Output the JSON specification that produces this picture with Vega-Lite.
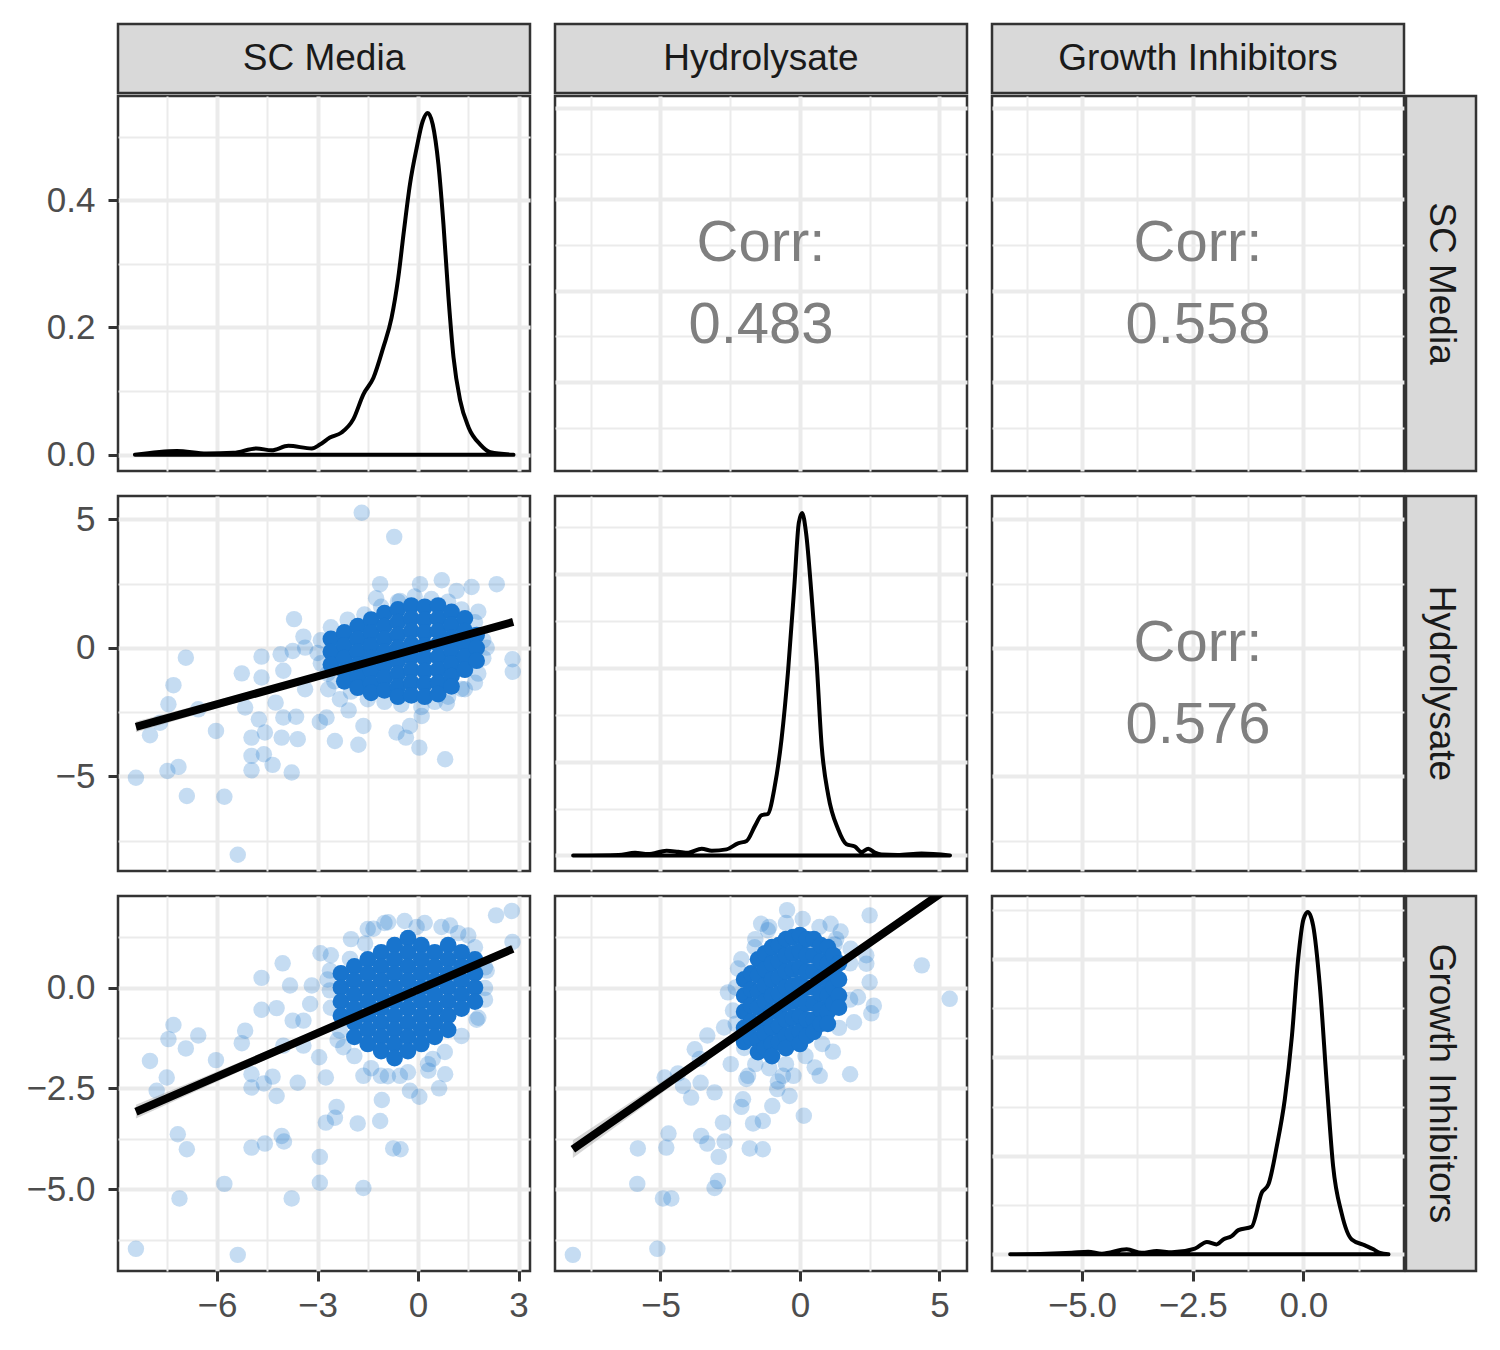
{
  "$schema": "https://vega.github.io/schema/vega-lite/v6.json",
  "background": "white",
  "padding": {"left": 24, "top": 22, "right": 5, "bottom": 5},
  "config": {
    "font": "Liberation Sans",
    "view": {"stroke": "#333333", "strokeWidth": 2.5},
    "axis": {
      "domain": false,
      "gridColor": "#ebebeb",
      "tickColor": "#333333",
      "tickWidth": 3,
      "tickSize": 10,
      "labelFont": "Liberation Sans",
      "labelFontSize": 35,
      "labelColor": "#4d4d4d",
      "labelFlush": false,
      "labelOverlap": false,
      "labelBound": false
    }
  },
  "datasets": {
    "dens_sc": [
      {"sc": -8.45, "density": 0}, {"sc": -7.2, "density": 0.006}, {"sc": -6.31, "density": 0.002}, {"sc": -5.51, "density": 0.003},
      {"sc": -4.82, "density": 0.01}, {"sc": -4.37, "density": 0.007}, {"sc": -3.87, "density": 0.014}, {"sc": -3.17, "density": 0.01},
      {"sc": -2.93, "density": 0.016}, {"sc": -2.63, "density": 0.027}, {"sc": -2.28, "density": 0.035}, {"sc": -1.93, "density": 0.056},
      {"sc": -1.63, "density": 0.095}, {"sc": -1.33, "density": 0.121}, {"sc": -1.04, "density": 0.168}, {"sc": -0.79, "density": 0.215},
      {"sc": -0.59, "density": 0.278}, {"sc": -0.42, "density": 0.352}, {"sc": -0.24, "density": 0.425}, {"sc": -0.04, "density": 0.482},
      {"sc": 0.14, "density": 0.524}, {"sc": 0.29, "density": 0.537}, {"sc": 0.44, "density": 0.519}, {"sc": 0.61, "density": 0.456},
      {"sc": 0.76, "density": 0.362}, {"sc": 0.91, "density": 0.247}, {"sc": 1.06, "density": 0.153}, {"sc": 1.26, "density": 0.085},
      {"sc": 1.51, "density": 0.043}, {"sc": 1.86, "density": 0.016}, {"sc": 2.16, "density": 0.004}, {"sc": 2.85, "density": 0}
    ],
    "dens_hyd": [
      {"hyd": -8.13, "density": 0}, {"hyd": -6.5, "density": 0.001}, {"hyd": -5.91, "density": 0.006}, {"hyd": -5.44, "density": 0.003},
      {"hyd": -4.78, "density": 0.01}, {"hyd": -4.36, "density": 0.008}, {"hyd": -4.0, "density": 0.006}, {"hyd": -3.52, "density": 0.0145},
      {"hyd": -3.16, "density": 0.01}, {"hyd": -2.63, "density": 0.013}, {"hyd": -2.22, "density": 0.026}, {"hyd": -1.91, "density": 0.031},
      {"hyd": -1.61, "density": 0.063}, {"hyd": -1.37, "density": 0.086}, {"hyd": -1.16, "density": 0.088}, {"hyd": -0.9, "density": 0.148},
      {"hyd": -0.66, "density": 0.247}, {"hyd": -0.42, "density": 0.396}, {"hyd": -0.2, "density": 0.573}, {"hyd": -0.04, "density": 0.708},
      {"hyd": 0.08, "density": 0.729}, {"hyd": 0.22, "density": 0.687}, {"hyd": 0.42, "density": 0.552}, {"hyd": 0.6, "density": 0.41},
      {"hyd": 0.78, "density": 0.233}, {"hyd": 1.02, "density": 0.127}, {"hyd": 1.37, "density": 0.056}, {"hyd": 1.67, "density": 0.024},
      {"hyd": 1.97, "density": 0.019}, {"hyd": 2.21, "density": 0.0075}, {"hyd": 2.45, "density": 0.0145}, {"hyd": 2.69, "density": 0.006},
      {"hyd": 2.93, "density": 0.002}, {"hyd": 3.5, "density": 0.001}, {"hyd": 4.36, "density": 0.004}, {"hyd": 5.38, "density": 0}
    ],
    "dens_gi": [
      {"gi": -6.62, "density": 0}, {"gi": -5.8, "density": 0.001}, {"gi": -5.23, "density": 0.003}, {"gi": -4.86, "density": 0.005},
      {"gi": -4.55, "density": 0.001}, {"gi": -3.99, "density": 0.01}, {"gi": -3.65, "density": 0.003}, {"gi": -3.31, "density": 0.0067},
      {"gi": -2.97, "density": 0.004}, {"gi": -2.45, "density": 0.0115}, {"gi": -2.18, "density": 0.025}, {"gi": -1.96, "density": 0.02},
      {"gi": -1.81, "density": 0.03}, {"gi": -1.62, "density": 0.037}, {"gi": -1.47, "density": 0.049}, {"gi": -1.17, "density": 0.056},
      {"gi": -0.94, "density": 0.125}, {"gi": -0.79, "density": 0.142}, {"gi": -0.6, "density": 0.22}, {"gi": -0.42, "density": 0.315},
      {"gi": -0.26, "density": 0.443}, {"gi": -0.12, "density": 0.599}, {"gi": 0.0, "density": 0.68}, {"gi": 0.1, "density": 0.695},
      {"gi": 0.22, "density": 0.667}, {"gi": 0.37, "density": 0.545}, {"gi": 0.53, "density": 0.342}, {"gi": 0.67, "density": 0.179},
      {"gi": 0.86, "density": 0.084}, {"gi": 1.09, "density": 0.03}, {"gi": 1.39, "density": 0.018}, {"gi": 1.58, "density": 0.01},
      {"gi": 1.73, "density": 0.0025}, {"gi": 1.92, "density": 0}
    ],
    "pts_sc_hyd": [
      {"sc": -1.68, "hyd": 5.26}, {"sc": -0.71, "hyd": 4.32}, {"sc": -6.93, "hyd": -0.38}, {"sc": -7.3, "hyd": -1.45},
      {"sc": -7.45, "hyd": -2.19}, {"sc": -6.56, "hyd": -2.39}, {"sc": -8.0, "hyd": -3.4}, {"sc": -7.7, "hyd": -2.91},
      {"sc": -8.42, "hyd": -5.05}, {"sc": -7.48, "hyd": -4.79}, {"sc": -7.15, "hyd": -4.63}, {"sc": -6.9, "hyd": -5.76},
      {"sc": -5.78, "hyd": -5.79}, {"sc": -5.38, "hyd": -8.05}, {"sc": -6.03, "hyd": -3.23}, {"sc": -5.26, "hyd": -0.99},
      {"sc": -4.67, "hyd": -1.15}, {"sc": -4.67, "hyd": -0.34}, {"sc": -5.16, "hyd": -2.32}, {"sc": -4.75, "hyd": -2.78},
      {"sc": -4.97, "hyd": -3.49}, {"sc": -4.57, "hyd": -3.29}, {"sc": -4.97, "hyd": -4.2}, {"sc": -4.97, "hyd": -4.76},
      {"sc": -4.6, "hyd": -4.14}, {"sc": -4.34, "hyd": -4.55}, {"sc": -3.77, "hyd": -4.85}, {"sc": -4.25, "hyd": -2.13},
      {"sc": -4.02, "hyd": -2.71}, {"sc": -4.07, "hyd": -3.49}, {"sc": -3.64, "hyd": -2.68}, {"sc": -3.59, "hyd": -3.55},
      {"sc": -4.1, "hyd": -0.25}, {"sc": -4.02, "hyd": -0.89}, {"sc": -3.74, "hyd": -0.12}, {"sc": -3.7, "hyd": 1.12},
      {"sc": -3.42, "hyd": 0.44}, {"sc": -3.37, "hyd": 0.01}, {"sc": -3.37, "hyd": -1.61}, {"sc": -2.93, "hyd": -2.88},
      {"sc": -2.73, "hyd": -2.71}, {"sc": -2.48, "hyd": -3.62}, {"sc": -1.78, "hyd": -3.77}, {"sc": -1.63, "hyd": -3.04},
      {"sc": -2.07, "hyd": -2.43}, {"sc": -2.33, "hyd": -2.0}, {"sc": -2.68, "hyd": -1.61}, {"sc": -0.64, "hyd": -3.29},
      {"sc": -0.36, "hyd": -3.49}, {"sc": -0.24, "hyd": -3.04}, {"sc": 0.04, "hyd": -3.88}, {"sc": 0.81, "hyd": -4.33},
      {"sc": 0.11, "hyd": -2.65}, {"sc": 0.86, "hyd": -2.15}, {"sc": -1.13, "hyd": 2.48}, {"sc": -1.25, "hyd": 1.93},
      {"sc": 0.06, "hyd": 2.48}, {"sc": 0.71, "hyd": 2.63}, {"sc": 1.6, "hyd": 2.37}, {"sc": 2.35, "hyd": 2.48},
      {"sc": 1.8, "hyd": 1.41}, {"sc": 2.82, "hyd": -0.44}, {"sc": 2.83, "hyd": -0.93}, {"sc": 1.7, "hyd": -1.35},
      {"sc": 1.4, "hyd": -1.61}, {"sc": 2.05, "hyd": 0.01}, {"sc": 1.15, "hyd": 2.22}, {"sc": -0.54, "hyd": 1.83},
      {"sc": -2.9, "hyd": 0.3}, {"sc": -2.9, "hyd": -0.6}, {"sc": -2.6, "hyd": 0.8}, {"sc": -2.5, "hyd": -1.3},
      {"sc": -2.1, "hyd": 1.1}, {"sc": -2.0, "hyd": -1.7}, {"sc": -1.6, "hyd": 1.3}, {"sc": -1.5, "hyd": -2.0},
      {"sc": -1.1, "hyd": 1.6}, {"sc": -1.0, "hyd": -2.1}, {"sc": -0.6, "hyd": 1.8}, {"sc": -0.5, "hyd": -2.2},
      {"sc": -0.1, "hyd": 2.0}, {"sc": 0.1, "hyd": -2.3}, {"sc": 0.4, "hyd": 1.9}, {"sc": 0.5, "hyd": -2.1},
      {"sc": 0.9, "hyd": 1.8}, {"sc": 0.9, "hyd": -1.9}, {"sc": 1.3, "hyd": 1.5}, {"sc": 1.3, "hyd": -1.6},
      {"sc": 1.7, "hyd": 1.0}, {"sc": 1.8, "hyd": -1.0}, {"sc": 1.95, "hyd": 0.3}, {"sc": 1.95, "hyd": -0.4},
      {"sc": -3.0, "hyd": -0.2}, {"sc": -2.7, "hyd": -1.0}
    ],
    "core_sc_hyd": [
      {"sc": -2.6, "hyd": 0.35}, {"sc": -2.6, "hyd": -0.15}, {"sc": -2.6, "hyd": -0.65},
      {"sc": -2.2, "hyd": 0.6}, {"sc": -2.2, "hyd": 0.1}, {"sc": -2.2, "hyd": -0.4}, {"sc": -2.2, "hyd": -0.9}, {"sc": -2.2, "hyd": -1.3},
      {"sc": -1.8, "hyd": 0.85}, {"sc": -1.8, "hyd": 0.35}, {"sc": -1.8, "hyd": -0.15}, {"sc": -1.8, "hyd": -0.65}, {"sc": -1.8, "hyd": -1.15}, {"sc": -1.8, "hyd": -1.55},
      {"sc": -1.4, "hyd": 1.1}, {"sc": -1.4, "hyd": 0.6}, {"sc": -1.4, "hyd": 0.1}, {"sc": -1.4, "hyd": -0.4}, {"sc": -1.4, "hyd": -0.9}, {"sc": -1.4, "hyd": -1.4}, {"sc": -1.4, "hyd": -1.75},
      {"sc": -1.0, "hyd": 1.35}, {"sc": -1.0, "hyd": 0.85}, {"sc": -1.0, "hyd": 0.35}, {"sc": -1.0, "hyd": -0.15}, {"sc": -1.0, "hyd": -0.65}, {"sc": -1.0, "hyd": -1.15}, {"sc": -1.0, "hyd": -1.65},
      {"sc": -0.6, "hyd": 1.5}, {"sc": -0.6, "hyd": 1.0}, {"sc": -0.6, "hyd": 0.5}, {"sc": -0.6, "hyd": 0.0}, {"sc": -0.6, "hyd": -0.5}, {"sc": -0.6, "hyd": -1.0}, {"sc": -0.6, "hyd": -1.5}, {"sc": -0.6, "hyd": -1.9},
      {"sc": -0.2, "hyd": 1.65}, {"sc": -0.2, "hyd": 1.15}, {"sc": -0.2, "hyd": 0.65}, {"sc": -0.2, "hyd": 0.15}, {"sc": -0.2, "hyd": -0.35}, {"sc": -0.2, "hyd": -0.85}, {"sc": -0.2, "hyd": -1.35}, {"sc": -0.2, "hyd": -1.85},
      {"sc": 0.2, "hyd": 1.6}, {"sc": 0.2, "hyd": 1.1}, {"sc": 0.2, "hyd": 0.6}, {"sc": 0.2, "hyd": 0.1}, {"sc": 0.2, "hyd": -0.4}, {"sc": 0.2, "hyd": -0.9}, {"sc": 0.2, "hyd": -1.4}, {"sc": 0.2, "hyd": -1.9},
      {"sc": 0.6, "hyd": 1.65}, {"sc": 0.6, "hyd": 1.15}, {"sc": 0.6, "hyd": 0.65}, {"sc": 0.6, "hyd": 0.15}, {"sc": 0.6, "hyd": -0.35}, {"sc": 0.6, "hyd": -0.85}, {"sc": 0.6, "hyd": -1.35}, {"sc": 0.6, "hyd": -1.8},
      {"sc": 1.0, "hyd": 1.4}, {"sc": 1.0, "hyd": 0.9}, {"sc": 1.0, "hyd": 0.4}, {"sc": 1.0, "hyd": -0.1}, {"sc": 1.0, "hyd": -0.6}, {"sc": 1.0, "hyd": -1.1}, {"sc": 1.0, "hyd": -1.5},
      {"sc": 1.4, "hyd": 1.15}, {"sc": 1.4, "hyd": 0.65}, {"sc": 1.4, "hyd": 0.15}, {"sc": 1.4, "hyd": -0.35}, {"sc": 1.4, "hyd": -0.85},
      {"sc": 1.75, "hyd": 0.5}, {"sc": 1.75, "hyd": 0.0}, {"sc": 1.75, "hyd": -0.5}
    ],
    "fit_sc_hyd": [
      {"sc": -8.42, "hyd": -3.07, "lo": -3.28, "hi": -2.86},
      {"sc": -0.3, "hyd": -0.13, "lo": -0.17, "hi": -0.09},
      {"sc": 2.84, "hyd": 1.01, "lo": 0.89, "hi": 1.13}
    ],
    "pts_sc_gi": [
      {"sc": -8.42, "gi": -6.48}, {"sc": -5.38, "gi": -6.63}, {"sc": -7.12, "gi": -5.23}, {"sc": -5.78, "gi": -4.87},
      {"sc": -3.77, "gi": -5.23}, {"sc": -2.93, "gi": -4.84}, {"sc": -1.63, "gi": -4.97}, {"sc": -2.93, "gi": -4.2},
      {"sc": -4.97, "gi": -3.97}, {"sc": -4.57, "gi": -3.87}, {"sc": -4.07, "gi": -3.68}, {"sc": -4.0, "gi": -3.82},
      {"sc": -7.17, "gi": -3.64}, {"sc": -6.9, "gi": -4.01}, {"sc": -0.74, "gi": -3.99}, {"sc": -0.52, "gi": -4.01},
      {"sc": -2.75, "gi": -3.35}, {"sc": -2.43, "gi": -2.96}, {"sc": -2.48, "gi": -3.23}, {"sc": -1.8, "gi": -3.37},
      {"sc": -1.13, "gi": -3.31}, {"sc": -1.08, "gi": -2.79}, {"sc": -8.0, "gi": -1.82}, {"sc": -7.8, "gi": -2.56},
      {"sc": -7.5, "gi": -2.23}, {"sc": -7.45, "gi": -1.28}, {"sc": -7.3, "gi": -0.93}, {"sc": -6.93, "gi": -1.51},
      {"sc": -6.56, "gi": -1.19}, {"sc": -6.03, "gi": -1.8}, {"sc": -5.16, "gi": -1.07}, {"sc": -5.26, "gi": -1.38},
      {"sc": -4.67, "gi": 0.24}, {"sc": -4.67, "gi": -0.55}, {"sc": -4.04, "gi": 0.6}, {"sc": -3.82, "gi": 0.05},
      {"sc": -4.22, "gi": -0.51}, {"sc": -3.74, "gi": -0.82}, {"sc": -3.22, "gi": -0.41}, {"sc": -3.42, "gi": -0.82},
      {"sc": -4.97, "gi": -2.15}, {"sc": -4.97, "gi": -2.48}, {"sc": -4.6, "gi": -2.38}, {"sc": -4.34, "gi": -2.21},
      {"sc": -4.22, "gi": -2.69}, {"sc": -3.59, "gi": -2.36}, {"sc": -4.02, "gi": -1.44}, {"sc": -3.42, "gi": -1.44},
      {"sc": -2.91, "gi": 0.85}, {"sc": -3.17, "gi": 0.05}, {"sc": -2.95, "gi": -1.73}, {"sc": -2.75, "gi": -2.23},
      {"sc": -1.63, "gi": -2.19}, {"sc": -1.11, "gi": -2.19}, {"sc": -0.54, "gi": -2.19}, {"sc": -0.24, "gi": -2.56},
      {"sc": 0.04, "gi": -2.71}, {"sc": 0.63, "gi": -2.5}, {"sc": 0.81, "gi": -2.15}, {"sc": 0.31, "gi": -2.06},
      {"sc": 0.44, "gi": -1.77}, {"sc": 2.33, "gi": 1.79}, {"sc": 2.8, "gi": 1.9}, {"sc": 2.82, "gi": 1.13},
      {"sc": 1.8, "gi": -0.75}, {"sc": 2.0, "gi": -0.01}, {"sc": 2.05, "gi": 0.42}, {"sc": 1.5, "gi": 1.29},
      {"sc": 0.96, "gi": 1.54}, {"sc": -0.04, "gi": 1.5}, {"sc": -0.89, "gi": 1.62}, {"sc": -1.33, "gi": 1.46},
      {"sc": -1.58, "gi": 1.09}, {"sc": -2.03, "gi": 0.71}, {"sc": -2.63, "gi": 0.42}, {"sc": -2.63, "gi": -0.07},
      {"sc": -2.33, "gi": -1.07}, {"sc": -2.23, "gi": -1.48},
      {"sc": -2.6, "gi": 0.8}, {"sc": -2.7, "gi": 0.2}, {"sc": -2.6, "gi": -0.5}, {"sc": -2.4, "gi": -1.3},
      {"sc": -2.0, "gi": 1.2}, {"sc": -1.9, "gi": -1.7}, {"sc": -1.5, "gi": 1.45}, {"sc": -1.4, "gi": -2.0},
      {"sc": -1.0, "gi": 1.6}, {"sc": -0.9, "gi": -2.2}, {"sc": -0.4, "gi": 1.65}, {"sc": -0.3, "gi": -2.1},
      {"sc": 0.2, "gi": 1.6}, {"sc": 0.3, "gi": -1.9}, {"sc": 0.7, "gi": 1.5}, {"sc": 0.8, "gi": -1.6},
      {"sc": 1.2, "gi": 1.35}, {"sc": 1.3, "gi": -1.2}, {"sc": 1.7, "gi": 1.0}, {"sc": 1.75, "gi": -0.8},
      {"sc": 2.0, "gi": 0.5}, {"sc": 2.0, "gi": -0.3}
    ],
    "core_sc_gi": [
      {"sc": -2.3, "gi": 0.35}, {"sc": -2.3, "gi": 0.0}, {"sc": -2.3, "gi": -0.35}, {"sc": -2.3, "gi": -0.7},
      {"sc": -1.9, "gi": 0.525}, {"sc": -1.9, "gi": 0.175}, {"sc": -1.9, "gi": -0.175}, {"sc": -1.9, "gi": -0.525}, {"sc": -1.9, "gi": -0.875}, {"sc": -1.9, "gi": -1.225},
      {"sc": -1.5, "gi": 0.7}, {"sc": -1.5, "gi": 0.35}, {"sc": -1.5, "gi": 0.0}, {"sc": -1.5, "gi": -0.35}, {"sc": -1.5, "gi": -0.7}, {"sc": -1.5, "gi": -1.05}, {"sc": -1.5, "gi": -1.4},
      {"sc": -1.1, "gi": 0.875}, {"sc": -1.1, "gi": 0.525}, {"sc": -1.1, "gi": 0.175}, {"sc": -1.1, "gi": -0.175}, {"sc": -1.1, "gi": -0.525}, {"sc": -1.1, "gi": -0.875}, {"sc": -1.1, "gi": -1.225}, {"sc": -1.1, "gi": -1.575},
      {"sc": -0.7, "gi": 1.05}, {"sc": -0.7, "gi": 0.7}, {"sc": -0.7, "gi": 0.35}, {"sc": -0.7, "gi": 0.0}, {"sc": -0.7, "gi": -0.35}, {"sc": -0.7, "gi": -0.7}, {"sc": -0.7, "gi": -1.05}, {"sc": -0.7, "gi": -1.4}, {"sc": -0.7, "gi": -1.75},
      {"sc": -0.3, "gi": 1.225}, {"sc": -0.3, "gi": 0.875}, {"sc": -0.3, "gi": 0.525}, {"sc": -0.3, "gi": 0.175}, {"sc": -0.3, "gi": -0.175}, {"sc": -0.3, "gi": -0.525}, {"sc": -0.3, "gi": -0.875}, {"sc": -0.3, "gi": -1.225}, {"sc": -0.3, "gi": -1.575},
      {"sc": 0.1, "gi": 1.05}, {"sc": 0.1, "gi": 0.7}, {"sc": 0.1, "gi": 0.35}, {"sc": 0.1, "gi": 0.0}, {"sc": 0.1, "gi": -0.35}, {"sc": 0.1, "gi": -0.7}, {"sc": 0.1, "gi": -1.05}, {"sc": 0.1, "gi": -1.4},
      {"sc": 0.5, "gi": 0.875}, {"sc": 0.5, "gi": 0.525}, {"sc": 0.5, "gi": 0.175}, {"sc": 0.5, "gi": -0.175}, {"sc": 0.5, "gi": -0.525}, {"sc": 0.5, "gi": -0.875}, {"sc": 0.5, "gi": -1.225},
      {"sc": 0.9, "gi": 1.05}, {"sc": 0.9, "gi": 0.7}, {"sc": 0.9, "gi": 0.35}, {"sc": 0.9, "gi": 0.0}, {"sc": 0.9, "gi": -0.35}, {"sc": 0.9, "gi": -0.7}, {"sc": 0.9, "gi": -1.05},
      {"sc": 1.3, "gi": 0.875}, {"sc": 1.3, "gi": 0.525}, {"sc": 1.3, "gi": 0.175}, {"sc": 1.3, "gi": -0.175}, {"sc": 1.3, "gi": -0.525},
      {"sc": 1.7, "gi": 0.7}, {"sc": 1.7, "gi": 0.35}, {"sc": 1.7, "gi": 0.0}, {"sc": 1.7, "gi": -0.35}
    ],
    "fit_sc_gi": [
      {"sc": -8.42, "gi": -3.08, "lo": -3.25, "hi": -2.91},
      {"sc": -0.3, "gi": -0.16, "lo": -0.19, "hi": -0.13},
      {"sc": 2.83, "gi": 0.96, "lo": 0.87, "hi": 1.05}
    ],
    "pts_hyd_gi": [
      {"hyd": -8.14, "gi": -6.63}, {"hyd": -5.11, "gi": -6.48}, {"hyd": -5.83, "gi": -4.87}, {"hyd": -4.91, "gi": -5.23},
      {"hyd": -4.61, "gi": -5.23}, {"hyd": -3.06, "gi": -4.97}, {"hyd": -2.94, "gi": -4.8}, {"hyd": -5.81, "gi": -3.99},
      {"hyd": -4.79, "gi": -3.97}, {"hyd": -4.71, "gi": -3.62}, {"hyd": -3.54, "gi": -3.68}, {"hyd": -3.32, "gi": -3.87},
      {"hyd": -2.7, "gi": -3.82}, {"hyd": -2.91, "gi": -4.2}, {"hyd": -2.76, "gi": -3.35}, {"hyd": -1.8, "gi": -3.99},
      {"hyd": -1.33, "gi": -4.01}, {"hyd": -1.68, "gi": -3.37}, {"hyd": -1.33, "gi": -3.31}, {"hyd": -2.1, "gi": -2.96},
      {"hyd": -2.04, "gi": -2.77}, {"hyd": -0.99, "gi": -2.94}, {"hyd": -0.37, "gi": -2.69}, {"hyd": 0.14, "gi": -3.18},
      {"hyd": -0.81, "gi": -2.52}, {"hyd": -3.06, "gi": -2.6}, {"hyd": -3.9, "gi": -2.73}, {"hyd": -4.19, "gi": -2.44},
      {"hyd": -3.56, "gi": -2.36}, {"hyd": -4.85, "gi": -2.23}, {"hyd": -4.37, "gi": -2.13}, {"hyd": -3.77, "gi": -1.53},
      {"hyd": -3.59, "gi": -1.77}, {"hyd": -3.32, "gi": -1.19}, {"hyd": -2.72, "gi": -0.99}, {"hyd": -2.48, "gi": -1.9},
      {"hyd": -1.92, "gi": -2.27}, {"hyd": -0.61, "gi": -2.19}, {"hyd": -0.23, "gi": -2.19}, {"hyd": 0.71, "gi": -2.19},
      {"hyd": 0.53, "gi": -1.98}, {"hyd": 1.18, "gi": -1.59}, {"hyd": 1.8, "gi": -2.15}, {"hyd": 1.94, "gi": -0.86},
      {"hyd": 2.5, "gi": 1.79}, {"hyd": 4.37, "gi": 0.55}, {"hyd": 5.37, "gi": -0.28}, {"hyd": 2.5, "gi": 0.13},
      {"hyd": 2.65, "gi": -0.45}, {"hyd": 2.56, "gi": -0.64}, {"hyd": 2.38, "gi": 0.8}, {"hyd": 2.38, "gi": 0.59},
      {"hyd": 2.08, "gi": -0.24}, {"hyd": -0.46, "gi": 1.92}, {"hyd": -1.39, "gi": 1.58}, {"hyd": -1.15, "gi": 1.42},
      {"hyd": 1.1, "gi": 1.58}, {"hyd": 1.46, "gi": 1.39}, {"hyd": -1.62, "gi": 1.0}, {"hyd": -2.22, "gi": 0.47},
      {"hyd": -2.58, "gi": -0.12}, {"hyd": -2.4, "gi": -0.57}, {"hyd": 1.24, "gi": 1.07}, {"hyd": 1.82, "gi": 0.96},
      {"hyd": -1.86, "gi": -2.19}, {"hyd": -0.79, "gi": -2.33},
      {"hyd": -2.3, "gi": 0.0}, {"hyd": -2.3, "gi": -0.9}, {"hyd": -2.1, "gi": 0.7}, {"hyd": -2.0, "gi": -1.5},
      {"hyd": -1.6, "gi": 1.2}, {"hyd": -1.6, "gi": -1.9}, {"hyd": -1.1, "gi": 1.5}, {"hyd": -1.1, "gi": -2.0},
      {"hyd": -0.5, "gi": 1.6}, {"hyd": -0.5, "gi": -1.9}, {"hyd": 0.1, "gi": 1.7}, {"hyd": 0.2, "gi": -1.7},
      {"hyd": 0.7, "gi": 1.5}, {"hyd": 0.8, "gi": -1.4}, {"hyd": 1.3, "gi": 1.2}, {"hyd": 1.4, "gi": -1.0},
      {"hyd": 1.8, "gi": 0.6}, {"hyd": 1.8, "gi": -0.3}
    ],
    "core_hyd_gi": [
      {"hyd": -2.0, "gi": 0.2}, {"hyd": -2.0, "gi": -0.2}, {"hyd": -2.0, "gi": -0.6}, {"hyd": -2.0, "gi": -1.0}, {"hyd": -2.0, "gi": -1.35},
      {"hyd": -1.75, "gi": 0.35}, {"hyd": -1.75, "gi": -0.05}, {"hyd": -1.75, "gi": -0.45}, {"hyd": -1.75, "gi": -0.85}, {"hyd": -1.75, "gi": -1.25},
      {"hyd": -1.5, "gi": 0.7}, {"hyd": -1.5, "gi": 0.3}, {"hyd": -1.5, "gi": -0.1}, {"hyd": -1.5, "gi": -0.5}, {"hyd": -1.5, "gi": -0.9}, {"hyd": -1.5, "gi": -1.3}, {"hyd": -1.5, "gi": -1.6},
      {"hyd": -1.25, "gi": 0.85}, {"hyd": -1.25, "gi": 0.45}, {"hyd": -1.25, "gi": 0.05}, {"hyd": -1.25, "gi": -0.35}, {"hyd": -1.25, "gi": -0.75}, {"hyd": -1.25, "gi": -1.15}, {"hyd": -1.25, "gi": -1.5},
      {"hyd": -1.0, "gi": 1.0}, {"hyd": -1.0, "gi": 0.6}, {"hyd": -1.0, "gi": 0.2}, {"hyd": -1.0, "gi": -0.2}, {"hyd": -1.0, "gi": -0.6}, {"hyd": -1.0, "gi": -1.0}, {"hyd": -1.0, "gi": -1.4}, {"hyd": -1.0, "gi": -1.7},
      {"hyd": -0.75, "gi": 1.05}, {"hyd": -0.75, "gi": 0.65}, {"hyd": -0.75, "gi": 0.25}, {"hyd": -0.75, "gi": -0.15}, {"hyd": -0.75, "gi": -0.55}, {"hyd": -0.75, "gi": -0.95}, {"hyd": -0.75, "gi": -1.35},
      {"hyd": -0.5, "gi": 1.2}, {"hyd": -0.5, "gi": 0.8}, {"hyd": -0.5, "gi": 0.4}, {"hyd": -0.5, "gi": 0.0}, {"hyd": -0.5, "gi": -0.4}, {"hyd": -0.5, "gi": -0.8}, {"hyd": -0.5, "gi": -1.2}, {"hyd": -0.5, "gi": -1.5},
      {"hyd": -0.25, "gi": 1.25}, {"hyd": -0.25, "gi": 0.85}, {"hyd": -0.25, "gi": 0.45}, {"hyd": -0.25, "gi": 0.05}, {"hyd": -0.25, "gi": -0.35}, {"hyd": -0.25, "gi": -0.75}, {"hyd": -0.25, "gi": -1.15},
      {"hyd": 0.0, "gi": 1.3}, {"hyd": 0.0, "gi": 0.9}, {"hyd": 0.0, "gi": 0.5}, {"hyd": 0.0, "gi": 0.1}, {"hyd": 0.0, "gi": -0.3}, {"hyd": 0.0, "gi": -0.7}, {"hyd": 0.0, "gi": -1.1}, {"hyd": 0.0, "gi": -1.4},
      {"hyd": 0.25, "gi": 1.2}, {"hyd": 0.25, "gi": 0.8}, {"hyd": 0.25, "gi": 0.4}, {"hyd": 0.25, "gi": 0.0}, {"hyd": 0.25, "gi": -0.4}, {"hyd": 0.25, "gi": -0.8}, {"hyd": 0.25, "gi": -1.2},
      {"hyd": 0.5, "gi": 1.2}, {"hyd": 0.5, "gi": 0.8}, {"hyd": 0.5, "gi": 0.4}, {"hyd": 0.5, "gi": 0.0}, {"hyd": 0.5, "gi": -0.4}, {"hyd": 0.5, "gi": -0.8}, {"hyd": 0.5, "gi": -1.1},
      {"hyd": 0.75, "gi": 1.05}, {"hyd": 0.75, "gi": 0.65}, {"hyd": 0.75, "gi": 0.25}, {"hyd": 0.75, "gi": -0.15}, {"hyd": 0.75, "gi": -0.55}, {"hyd": 0.75, "gi": -0.9},
      {"hyd": 1.0, "gi": 1.0}, {"hyd": 1.0, "gi": 0.6}, {"hyd": 1.0, "gi": 0.2}, {"hyd": 1.0, "gi": -0.2}, {"hyd": 1.0, "gi": -0.6}, {"hyd": 1.0, "gi": -0.9},
      {"hyd": 1.2, "gi": 0.8}, {"hyd": 1.2, "gi": 0.4}, {"hyd": 1.2, "gi": 0.0}, {"hyd": 1.2, "gi": -0.4},
      {"hyd": 1.4, "gi": 0.6}, {"hyd": 1.4, "gi": 0.2}, {"hyd": 1.4, "gi": -0.2}, {"hyd": 1.4, "gi": -0.5}
    ],
    "fit_hyd_gi": [
      {"hyd": -8.14, "gi": -4.01, "lo": -4.23, "hi": -3.79},
      {"hyd": -0.2, "gi": -0.19, "lo": -0.22, "hi": -0.16},
      {"hyd": 5.37, "gi": 2.49, "lo": 2.37, "hi": 2.61}
    ],
    "corr_sc_hyd": [{"hyd": -1.395, "sc": -2.765, "label": "Corr:\n0.483"}],
    "corr_sc_gi": [{"gi": -2.38, "sc": -2.765, "label": "Corr:\n0.558"}],
    "corr_hyd_gi": [{"gi": -2.38, "hyd": -1.385, "label": "Corr:\n0.576"}],
    "blank": [{"label": ""}]
  },
  "bounds": "flush",
  "columns": 6,
  "spacing": {"row": 3, "column": 2},
  "concat": [
    {"width": 412, "height": 69, "view": {"fill": "#d9d9d9", "stroke": "#333333", "strokeWidth": 2.5}, "data": {"values": [{"label": "SC Media"}]},
     "mark": {"type": "text", "fontSize": 37, "color": "#1a1a1a", "baseline": "middle"},
     "encoding": {"text": {"field": "label", "type": "nominal"}}},
    {"width": 21, "height": 69, "view": {"stroke": "transparent"}, "data": {"name": "blank"}, "mark": "text", "encoding": {"text": {"field": "label"}}},
    {"width": 412, "height": 69, "view": {"fill": "#d9d9d9", "stroke": "#333333", "strokeWidth": 2.5}, "data": {"values": [{"label": "Hydrolysate"}]},
     "mark": {"type": "text", "fontSize": 37, "color": "#1a1a1a", "baseline": "middle"},
     "encoding": {"text": {"field": "label", "type": "nominal"}}},
    {"width": 21, "height": 69, "view": {"stroke": "transparent"}, "data": {"name": "blank"}, "mark": "text", "encoding": {"text": {"field": "label"}}},
    {"width": 412, "height": 69, "view": {"fill": "#d9d9d9", "stroke": "#333333", "strokeWidth": 2.5}, "data": {"values": [{"label": "Growth Inhibitors"}]},
     "mark": {"type": "text", "fontSize": 37, "color": "#1a1a1a", "baseline": "middle"},
     "encoding": {"text": {"field": "label", "type": "nominal"}}},
    {"width": 70, "height": 69, "view": {"stroke": "transparent"}, "data": {"name": "blank"}, "mark": "text", "encoding": {"text": {"field": "label"}}},

    {
      "width": 412, "height": 375,
      "data": {"name": "dens_sc"},
      "mark": {"type": "area", "interpolate": "monotone", "fill": "transparent", "stroke": "black", "strokeWidth": 4, "strokeJoin": "round"},
      "encoding": {
        "x": {"field": "sc", "type": "quantitative", "title": null,
              "scale": {"domain": [-8.955, 3.343], "nice": false, "zero": false},
              "axis": {"values": [-7.5, -6, -4.5, -3, -1.5, 0, 1.5, 3], "labels": false, "ticks": false,
                       "gridWidth": {"condition": {"test": "indexof([-6,-3,0,3], datum.value) >= 0", "value": 4}, "value": 2}}},
        "y": {"field": "density", "type": "quantitative", "title": null,
              "scale": {"domain": [-0.0255, 0.5637], "nice": false, "zero": false},
              "axis": {"values": [0, 0.1, 0.2, 0.3, 0.4, 0.5], "format": ".1f", "labelPadding": 13,
                       "labelExpr": "indexof([0,0.2,0.4], datum.value) >= 0 ? datum.label : ''",
                       "tickOpacity": {"condition": {"test": "indexof([0,0.2,0.4], datum.value) >= 0", "value": 1}, "value": 0},
                       "gridWidth": {"condition": {"test": "indexof([0,0.2,0.4], datum.value) >= 0", "value": 4}, "value": 2}}},
        "y2": {"datum": 0}
      }
    },
    {"width": 21, "height": 375, "view": {"stroke": "transparent"}, "data": {"name": "blank"}, "mark": "text", "encoding": {"text": {"field": "label"}}},
    {
      "width": 412, "height": 375,
      "data": {"name": "corr_sc_hyd"},
      "mark": {"type": "text", "fontSize": 58, "color": "#7f7f7f", "lineBreak": "\n", "lineHeight": 82, "baseline": "middle", "align": "center", "dy": -40},
      "encoding": {
        "x": {"field": "hyd", "type": "quantitative", "title": null,
              "scale": {"domain": [-8.78, 5.99], "nice": false, "zero": false},
              "axis": {"values": [-7.5, -5, -2.5, 0, 2.5, 5], "labels": false, "ticks": false,
                       "gridWidth": {"condition": {"test": "indexof([-5,0,5], datum.value) >= 0", "value": 4}, "value": 2}}},
        "y": {"field": "sc", "type": "quantitative", "title": null,
              "scale": {"domain": [-8.93, 3.4], "nice": false, "zero": false},
              "axis": {"values": [-7.5, -6, -4.5, -3, -1.5, 0, 1.5, 3], "labels": false, "ticks": false,
                       "gridWidth": {"condition": {"test": "indexof([-6,-3,0,3], datum.value) >= 0", "value": 4}, "value": 2}}},
        "text": {"field": "label", "type": "nominal"}
      }
    },
    {"width": 21, "height": 375, "view": {"stroke": "transparent"}, "data": {"name": "blank"}, "mark": "text", "encoding": {"text": {"field": "label"}}},
    {
      "width": 412, "height": 375,
      "data": {"name": "corr_sc_gi"},
      "mark": {"type": "text", "fontSize": 58, "color": "#7f7f7f", "lineBreak": "\n", "lineHeight": 82, "baseline": "middle", "align": "center", "dy": -40},
      "encoding": {
        "x": {"field": "gi", "type": "quantitative", "title": null,
              "scale": {"domain": [-7.03, 2.27], "nice": false, "zero": false},
              "axis": {"values": [-6.25, -5, -3.75, -2.5, -1.25, 0, 1.25], "labels": false, "ticks": false,
                       "gridWidth": {"condition": {"test": "indexof([-5,-2.5,0], datum.value) >= 0", "value": 4}, "value": 2}}},
        "y": {"field": "sc", "type": "quantitative", "title": null,
              "scale": {"domain": [-8.93, 3.4], "nice": false, "zero": false},
              "axis": {"values": [-7.5, -6, -4.5, -3, -1.5, 0, 1.5, 3], "labels": false, "ticks": false,
                       "gridWidth": {"condition": {"test": "indexof([-6,-3,0,3], datum.value) >= 0", "value": 4}, "value": 2}}},
        "text": {"field": "label", "type": "nominal"}
      }
    },
    {"width": 70, "height": 375, "view": {"fill": "#d9d9d9", "stroke": "#333333", "strokeWidth": 2.5}, "data": {"values": [{"label": "SC Media"}]},
     "mark": {"type": "text", "fontSize": 37, "color": "#1a1a1a", "baseline": "middle", "angle": 90},
     "encoding": {"text": {"field": "label", "type": "nominal"}}},

    {"width": 412, "height": 19, "view": {"stroke": "transparent"}, "data": {"name": "blank"}, "mark": "text", "encoding": {"text": {"field": "label"}}},
    {"width": 21, "height": 19, "view": {"stroke": "transparent"}, "data": {"name": "blank"}, "mark": "text", "encoding": {"text": {"field": "label"}}},
    {"width": 412, "height": 19, "view": {"stroke": "transparent"}, "data": {"name": "blank"}, "mark": "text", "encoding": {"text": {"field": "label"}}},
    {"width": 21, "height": 19, "view": {"stroke": "transparent"}, "data": {"name": "blank"}, "mark": "text", "encoding": {"text": {"field": "label"}}},
    {"width": 412, "height": 19, "view": {"stroke": "transparent"}, "data": {"name": "blank"}, "mark": "text", "encoding": {"text": {"field": "label"}}},
    {"width": 70, "height": 19, "view": {"stroke": "transparent"}, "data": {"name": "blank"}, "mark": "text", "encoding": {"text": {"field": "label"}}},

    {
      "width": 412, "height": 375,
      "layer": [
        {
          "data": {"name": "pts_sc_hyd"},
          "mark": {"type": "circle", "size": 270, "color": "#1874CD", "opacity": 0.25},
          "encoding": {
            "x": {"field": "sc", "type": "quantitative", "title": null,
                  "scale": {"domain": [-8.955, 3.343], "nice": false, "zero": false},
                  "axis": {"values": [-7.5, -6, -4.5, -3, -1.5, 0, 1.5, 3], "labels": false, "ticks": false,
                           "gridWidth": {"condition": {"test": "indexof([-6,-3,0,3], datum.value) >= 0", "value": 4}, "value": 2}}},
            "y": {"field": "hyd", "type": "quantitative", "title": null,
                  "scale": {"domain": [-8.68, 5.91], "nice": false, "zero": false},
                  "axis": {"values": [-7.5, -5, -2.5, 0, 2.5, 5], "format": "d", "labelPadding": 13,
                           "labelExpr": "indexof([-5,0,5], datum.value) >= 0 ? datum.label : ''",
                           "tickOpacity": {"condition": {"test": "indexof([-5,0,5], datum.value) >= 0", "value": 1}, "value": 0},
                           "gridWidth": {"condition": {"test": "indexof([-5,0,5], datum.value) >= 0", "value": 4}, "value": 2}}}
          }
        },
        {
          "data": {"name": "core_sc_hyd"},
          "mark": {"type": "circle", "size": 280, "color": "#1874CD", "opacity": 1},
          "encoding": {
            "x": {"field": "sc", "type": "quantitative", "scale": {"domain": [-8.955, 3.343], "nice": false, "zero": false}},
            "y": {"field": "hyd", "type": "quantitative", "scale": {"domain": [-8.68, 5.91], "nice": false, "zero": false}}
          }
        },
        {
          "data": {"name": "fit_sc_hyd"},
          "mark": {"type": "area", "color": "#999999", "opacity": 0.4},
          "encoding": {
            "x": {"field": "sc", "type": "quantitative", "scale": {"domain": [-8.955, 3.343], "nice": false, "zero": false}},
            "y": {"field": "lo", "type": "quantitative", "scale": {"domain": [-8.68, 5.91], "nice": false, "zero": false}},
            "y2": {"field": "hi"}
          }
        },
        {
          "data": {"name": "fit_sc_hyd"},
          "mark": {"type": "line", "color": "black", "strokeWidth": 8},
          "encoding": {
            "x": {"field": "sc", "type": "quantitative", "scale": {"domain": [-8.955, 3.343], "nice": false, "zero": false}},
            "y": {"field": "hyd", "type": "quantitative", "scale": {"domain": [-8.68, 5.91], "nice": false, "zero": false}}
          }
        }
      ]
    },
    {"width": 21, "height": 375, "view": {"stroke": "transparent"}, "data": {"name": "blank"}, "mark": "text", "encoding": {"text": {"field": "label"}}},
    {
      "width": 412, "height": 375,
      "data": {"name": "dens_hyd"},
      "mark": {"type": "area", "interpolate": "monotone", "fill": "transparent", "stroke": "black", "strokeWidth": 4, "strokeJoin": "round"},
      "encoding": {
        "x": {"field": "hyd", "type": "quantitative", "title": null,
              "scale": {"domain": [-8.78, 5.99], "nice": false, "zero": false},
              "axis": {"values": [-7.5, -5, -2.5, 0, 2.5, 5], "labels": false, "ticks": false,
                       "gridWidth": {"condition": {"test": "indexof([-5,0,5], datum.value) >= 0", "value": 4}, "value": 2}}},
        "y": {"field": "density", "type": "quantitative", "title": null,
              "scale": {"domain": [-0.033, 0.765], "nice": false, "zero": false},
              "axis": {"values": [0, 0.1, 0.2, 0.3, 0.4, 0.5, 0.6, 0.7], "labels": false, "ticks": false,
                       "gridWidth": {"condition": {"test": "indexof([0,0.2,0.4,0.6], datum.value) >= 0", "value": 4}, "value": 2}}},
        "y2": {"datum": 0}
      }
    },
    {"width": 21, "height": 375, "view": {"stroke": "transparent"}, "data": {"name": "blank"}, "mark": "text", "encoding": {"text": {"field": "label"}}},
    {
      "width": 412, "height": 375,
      "data": {"name": "corr_hyd_gi"},
      "mark": {"type": "text", "fontSize": 58, "color": "#7f7f7f", "lineBreak": "\n", "lineHeight": 82, "baseline": "middle", "align": "center", "dy": -40},
      "encoding": {
        "x": {"field": "gi", "type": "quantitative", "title": null,
              "scale": {"domain": [-7.03, 2.27], "nice": false, "zero": false},
              "axis": {"values": [-6.25, -5, -3.75, -2.5, -1.25, 0, 1.25], "labels": false, "ticks": false,
                       "gridWidth": {"condition": {"test": "indexof([-5,-2.5,0], datum.value) >= 0", "value": 4}, "value": 2}}},
        "y": {"field": "hyd", "type": "quantitative", "title": null,
              "scale": {"domain": [-8.68, 5.91], "nice": false, "zero": false},
              "axis": {"values": [-7.5, -5, -2.5, 0, 2.5, 5], "labels": false, "ticks": false,
                       "gridWidth": {"condition": {"test": "indexof([-5,0,5], datum.value) >= 0", "value": 4}, "value": 2}}},
        "text": {"field": "label", "type": "nominal"}
      }
    },
    {"width": 70, "height": 375, "view": {"fill": "#d9d9d9", "stroke": "#333333", "strokeWidth": 2.5}, "data": {"values": [{"label": "Hydrolysate"}]},
     "mark": {"type": "text", "fontSize": 37, "color": "#1a1a1a", "baseline": "middle", "angle": 90},
     "encoding": {"text": {"field": "label", "type": "nominal"}}},

    {"width": 412, "height": 19, "view": {"stroke": "transparent"}, "data": {"name": "blank"}, "mark": "text", "encoding": {"text": {"field": "label"}}},
    {"width": 21, "height": 19, "view": {"stroke": "transparent"}, "data": {"name": "blank"}, "mark": "text", "encoding": {"text": {"field": "label"}}},
    {"width": 412, "height": 19, "view": {"stroke": "transparent"}, "data": {"name": "blank"}, "mark": "text", "encoding": {"text": {"field": "label"}}},
    {"width": 21, "height": 19, "view": {"stroke": "transparent"}, "data": {"name": "blank"}, "mark": "text", "encoding": {"text": {"field": "label"}}},
    {"width": 412, "height": 19, "view": {"stroke": "transparent"}, "data": {"name": "blank"}, "mark": "text", "encoding": {"text": {"field": "label"}}},
    {"width": 70, "height": 19, "view": {"stroke": "transparent"}, "data": {"name": "blank"}, "mark": "text", "encoding": {"text": {"field": "label"}}},

    {
      "width": 412, "height": 375,
      "layer": [
        {
          "data": {"name": "pts_sc_gi"},
          "mark": {"type": "circle", "size": 270, "color": "#1874CD", "opacity": 0.25},
          "encoding": {
            "x": {"field": "sc", "type": "quantitative", "title": null,
                  "scale": {"domain": [-8.955, 3.343], "nice": false, "zero": false},
                  "axis": {"values": [-7.5, -6, -4.5, -3, -1.5, 0, 1.5, 3], "format": "d", "labelPadding": 7,
                           "labelExpr": "indexof([-6,-3,0,3], datum.value) >= 0 ? datum.label : ''",
                           "tickOpacity": {"condition": {"test": "indexof([-6,-3,0,3], datum.value) >= 0", "value": 1}, "value": 0},
                           "gridWidth": {"condition": {"test": "indexof([-6,-3,0,3], datum.value) >= 0", "value": 4}, "value": 2}}},
            "y": {"field": "gi", "type": "quantitative", "title": null,
                  "scale": {"domain": [-7.03, 2.27], "nice": false, "zero": false},
                  "axis": {"values": [-6.25, -5, -3.75, -2.5, -1.25, 0, 1.25], "format": ".1f", "labelPadding": 13,
                           "labelExpr": "indexof([-5,-2.5,0], datum.value) >= 0 ? datum.label : ''",
                           "tickOpacity": {"condition": {"test": "indexof([-5,-2.5,0], datum.value) >= 0", "value": 1}, "value": 0},
                           "gridWidth": {"condition": {"test": "indexof([-5,-2.5,0], datum.value) >= 0", "value": 4}, "value": 2}}}
          }
        },
        {
          "data": {"name": "core_sc_gi"},
          "mark": {"type": "circle", "size": 280, "color": "#1874CD", "opacity": 1},
          "encoding": {
            "x": {"field": "sc", "type": "quantitative", "scale": {"domain": [-8.955, 3.343], "nice": false, "zero": false}},
            "y": {"field": "gi", "type": "quantitative", "scale": {"domain": [-7.03, 2.27], "nice": false, "zero": false}}
          }
        },
        {
          "data": {"name": "fit_sc_gi"},
          "mark": {"type": "area", "color": "#999999", "opacity": 0.4},
          "encoding": {
            "x": {"field": "sc", "type": "quantitative", "scale": {"domain": [-8.955, 3.343], "nice": false, "zero": false}},
            "y": {"field": "lo", "type": "quantitative", "scale": {"domain": [-7.03, 2.27], "nice": false, "zero": false}},
            "y2": {"field": "hi"}
          }
        },
        {
          "data": {"name": "fit_sc_gi"},
          "mark": {"type": "line", "color": "black", "strokeWidth": 8},
          "encoding": {
            "x": {"field": "sc", "type": "quantitative", "scale": {"domain": [-8.955, 3.343], "nice": false, "zero": false}},
            "y": {"field": "gi", "type": "quantitative", "scale": {"domain": [-7.03, 2.27], "nice": false, "zero": false}}
          }
        }
      ]
    },
    {"width": 21, "height": 375, "view": {"stroke": "transparent"}, "data": {"name": "blank"}, "mark": "text", "encoding": {"text": {"field": "label"}}},
    {
      "width": 412, "height": 375,
      "layer": [
        {
          "data": {"name": "pts_hyd_gi"},
          "mark": {"type": "circle", "size": 270, "color": "#1874CD", "opacity": 0.25},
          "encoding": {
            "x": {"field": "hyd", "type": "quantitative", "title": null,
                  "scale": {"domain": [-8.78, 5.99], "nice": false, "zero": false},
                  "axis": {"values": [-7.5, -5, -2.5, 0, 2.5, 5], "format": "d", "labelPadding": 7,
                           "labelExpr": "indexof([-5,0,5], datum.value) >= 0 ? datum.label : ''",
                           "tickOpacity": {"condition": {"test": "indexof([-5,0,5], datum.value) >= 0", "value": 1}, "value": 0},
                           "gridWidth": {"condition": {"test": "indexof([-5,0,5], datum.value) >= 0", "value": 4}, "value": 2}}},
            "y": {"field": "gi", "type": "quantitative", "title": null,
                  "scale": {"domain": [-7.03, 2.27], "nice": false, "zero": false},
                  "axis": {"values": [-6.25, -5, -3.75, -2.5, -1.25, 0, 1.25], "labels": false, "ticks": false,
                           "gridWidth": {"condition": {"test": "indexof([-5,-2.5,0], datum.value) >= 0", "value": 4}, "value": 2}}}
          }
        },
        {
          "data": {"name": "core_hyd_gi"},
          "mark": {"type": "circle", "size": 280, "color": "#1874CD", "opacity": 1},
          "encoding": {
            "x": {"field": "hyd", "type": "quantitative", "scale": {"domain": [-8.78, 5.99], "nice": false, "zero": false}},
            "y": {"field": "gi", "type": "quantitative", "scale": {"domain": [-7.03, 2.27], "nice": false, "zero": false}}
          }
        },
        {
          "data": {"name": "fit_hyd_gi"},
          "mark": {"type": "area", "color": "#999999", "opacity": 0.4, "clip": true},
          "encoding": {
            "x": {"field": "hyd", "type": "quantitative", "scale": {"domain": [-8.78, 5.99], "nice": false, "zero": false}},
            "y": {"field": "lo", "type": "quantitative", "scale": {"domain": [-7.03, 2.27], "nice": false, "zero": false}},
            "y2": {"field": "hi"}
          }
        },
        {
          "data": {"name": "fit_hyd_gi"},
          "mark": {"type": "line", "color": "black", "strokeWidth": 8, "clip": true},
          "encoding": {
            "x": {"field": "hyd", "type": "quantitative", "scale": {"domain": [-8.78, 5.99], "nice": false, "zero": false}},
            "y": {"field": "gi", "type": "quantitative", "scale": {"domain": [-7.03, 2.27], "nice": false, "zero": false}}
          }
        }
      ]
    },
    {"width": 21, "height": 375, "view": {"stroke": "transparent"}, "data": {"name": "blank"}, "mark": "text", "encoding": {"text": {"field": "label"}}},
    {
      "width": 412, "height": 375,
      "data": {"name": "dens_gi"},
      "mark": {"type": "area", "interpolate": "monotone", "fill": "transparent", "stroke": "black", "strokeWidth": 4, "strokeJoin": "round"},
      "encoding": {
        "x": {"field": "gi", "type": "quantitative", "title": null,
              "scale": {"domain": [-7.03, 2.27], "nice": false, "zero": false},
              "axis": {"values": [-6.25, -5, -3.75, -2.5, -1.25, 0, 1.25], "format": ".1f", "labelPadding": 7,
                       "labelExpr": "indexof([-5,-2.5,0], datum.value) >= 0 ? datum.label : ''",
                       "tickOpacity": {"condition": {"test": "indexof([-5,-2.5,0], datum.value) >= 0", "value": 1}, "value": 0},
                       "gridWidth": {"condition": {"test": "indexof([-5,-2.5,0], datum.value) >= 0", "value": 4}, "value": 2}}},
        "y": {"field": "density", "type": "quantitative", "title": null,
              "scale": {"domain": [-0.034, 0.7275], "nice": false, "zero": false},
              "axis": {"values": [0, 0.1, 0.2, 0.3, 0.4, 0.5, 0.6, 0.7], "labels": false, "ticks": false,
                       "gridWidth": {"condition": {"test": "indexof([0,0.2,0.4,0.6], datum.value) >= 0", "value": 4}, "value": 2}}},
        "y2": {"datum": 0}
      }
    },
    {"width": 70, "height": 375, "view": {"fill": "#d9d9d9", "stroke": "#333333", "strokeWidth": 2.5}, "data": {"values": [{"label": "Growth Inhibitors"}]},
     "mark": {"type": "text", "fontSize": 37, "color": "#1a1a1a", "baseline": "middle", "angle": 90},
     "encoding": {"text": {"field": "label", "type": "nominal"}}}
  ]
}
